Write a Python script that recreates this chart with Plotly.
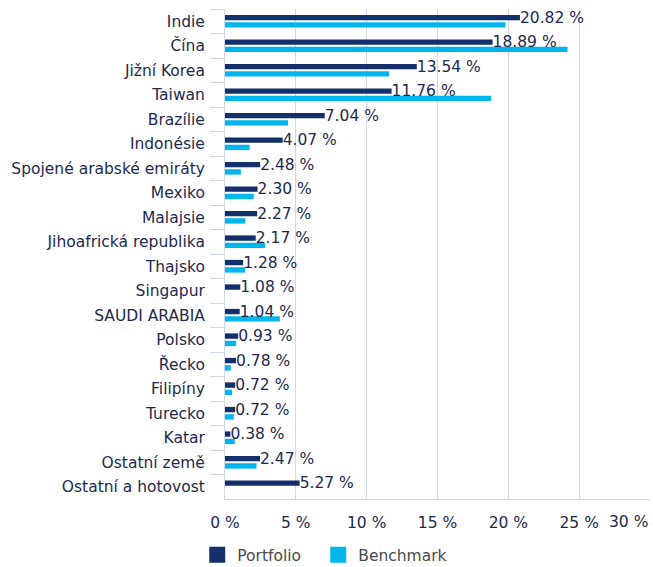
import plotly.graph_objects as go

categories = ["Indie", "Čína", "Jižní Korea", "Taiwan", "Brazílie", "Indonésie",
              "Spojené arabské emiráty", "Mexiko", "Malajsie", "Jihoafrická republika",
              "Thajsko", "Singapur", "SAUDI ARABIA", "Polsko", "Řecko", "Filipíny",
              "Turecko", "Katar", "Ostatní země", "Ostatní a hotovost"]
portfolio = [20.82, 18.89, 13.54, 11.76, 7.04, 4.07, 2.48, 2.30, 2.27, 2.17,
             1.28, 1.08, 1.04, 0.93, 0.78, 0.72, 0.72, 0.38, 2.47, 5.27]
benchmark = [19.8, 24.18, 11.58, 18.79, 4.45, 1.73, 1.12, 2.03, 1.42, 2.83,
             1.42, 0.0, 3.87, 0.79, 0.41, 0.5, 0.62, 0.69, 2.22, 0.0]
tick_vals = [0, 5, 10, 15, 20, 25]
tick_text = ["0 %", "5 %", "10 %", "15 %", "20 %", "25 %"]
last_tick = 30
last_tick_text = "30 %"

DARK = "#13306a"
LIGHT = "#00b6ed"
TEXT = "#1c2a50"
GRID = "#cfd8e8"
FONT = "DejaVu Sans"
FS = 15.5

fig = go.Figure()
# benchmark drawn first so portfolio value labels sit on top
fig.add_trace(go.Bar(
    y=categories, x=benchmark, orientation="h", name="Benchmark",
    marker=dict(color=LIGHT, line=dict(width=0)),
    offset=0.04, width=0.22, showlegend=False, hoverinfo="x+y",
))
fig.add_trace(go.Bar(
    y=categories, x=portfolio, orientation="h", name="Portfolio",
    marker=dict(color=DARK, line=dict(width=0)),
    offset=-0.26, width=0.22, showlegend=False,
    text=[f"{v:.2f} %" for v in portfolio], textposition="outside",
    textfont=dict(family=FONT, size=FS, color=TEXT),
    constraintext="none", cliponaxis=False, hoverinfo="x+y",
))
# legend entries
fig.add_trace(go.Scatter(x=[None], y=[None], mode="markers", name="Portfolio",
                         marker=dict(symbol="square", size=16, color=DARK),
                         legend="legend"))
fig.add_trace(go.Scatter(x=[None], y=[None], mode="markers", name="Benchmark",
                         marker=dict(symbol="square", size=16, color=LIGHT),
                         legend="legend2"))

legend_common = dict(orientation="h", y=-0.08, xanchor="left", yanchor="top",
                     font=dict(family=FONT, size=FS, color="#4a4a4a"),
                     itemclick=False, itemdoubleclick=False,
                     bgcolor="rgba(0,0,0,0)")

fig.update_layout(
    width=653, height=567,
    margin=dict(l=225, r=3, t=9, b=68, autoexpand=False),
    paper_bgcolor="white", plot_bgcolor="white",
    font=dict(family=FONT, size=FS, color=TEXT),
    showlegend=True,
    legend=dict(x=-0.0653, **legend_common),
    legend2=dict(x=0.2194, **legend_common),
    xaxis=dict(range=[0, last_tick], tickvals=tick_vals, ticktext=tick_text,
               automargin=False,
               showgrid=True, gridcolor=GRID, gridwidth=1,
               zeroline=False, showline=True, linecolor=GRID, linewidth=1,
               ticks="", ticklabelstandoff=9,
               tickfont=dict(family=FONT, size=FS, color=TEXT)),
    yaxis=dict(type="category", autorange="reversed", automargin=False,
               showgrid=False, zeroline=False, showline=True, linecolor=GRID, linewidth=1,
               ticks="outside", tickson="boundaries", ticklen=14, tickcolor=GRID,
               tickwidth=1, ticklabelstandoff=16,
               tickfont=dict(family=FONT, size=FS, color=TEXT)),
    annotations=[dict(x=last_tick, xref="x", y=0, yref="paper", yanchor="top",
                      xanchor="right", yshift=-12, text=last_tick_text, showarrow=False,
                      font=dict(family=FONT, size=FS, color=TEXT))],
)

fig.write_html("out.html", config={"displayModeBar": False},
               post_script="document.body.style.margin='0';")
